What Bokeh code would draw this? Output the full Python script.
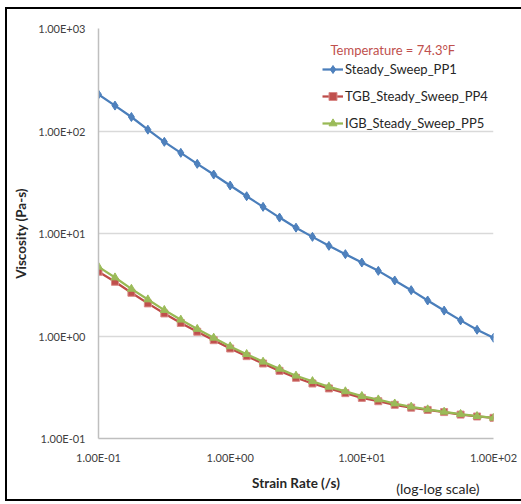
from bokeh.plotting import figure
from bokeh.models import Legend, LegendItem, Label, FixedTicker, Title
from bokeh.embed import file_html
from bokeh.resources import INLINE

# Data
strain_rate = [0.1, 0.1334, 0.1778, 0.2371, 0.3162, 0.4217, 0.5623, 0.7499,
               1.0, 1.334, 1.778, 2.371, 3.162, 4.217, 5.623, 7.499,
               10.0, 13.34, 17.78, 23.71, 31.62, 42.17, 56.23, 74.99, 100.0]
pp1 = [227, 177, 137, 103, 78.4, 61.2, 47.8, 37.6, 29.4, 23.1, 18.2, 14.3,
       11.4, 9.27, 7.58, 6.29, 5.21, 4.32, 3.48, 2.80, 2.22, 1.77, 1.42, 1.15, 0.96]
pp4 = [4.23, 3.38, 2.64, 2.08, 1.66, 1.34, 1.10, 0.91, 0.755, 0.636, 0.539,
       0.457, 0.391, 0.344, 0.308, 0.277, 0.249, 0.231, 0.213, 0.200, 0.190,
       0.181, 0.171, 0.164, 0.159]
pp5 = [4.73, 3.72, 2.88, 2.27, 1.79, 1.44, 1.17, 0.96, 0.79, 0.665, 0.56,
       0.478, 0.409, 0.362, 0.319, 0.288, 0.259, 0.240, 0.219, 0.204, 0.192,
       0.182, 0.173, 0.165, 0.159]
series_names = ["Steady_Sweep_PP1", "TGB_Steady_Sweep_PP4", "IGB_Steady_Sweep_PP5"]
x_tick_values = [0.1, 1, 10, 100]
x_tick_labels = ["1.00E-01", "1.00E+00", "1.00E+01", "1.00E+02"]
y_tick_values = [0.1, 1, 10, 100, 1000]
y_tick_labels = ["1.00E-01", "1.00E+00", "1.00E+01", "1.00E+02", "1.00E+03"]

FONT = "Lato"
TICK_COLOR = "#404040"
TEXT_COLOR = "#262626"

p = figure(width=514, height=490, x_axis_type="log", y_axis_type="log",
           x_range=(0.1, 100), y_range=(0.1, 1000),
           output_backend="svg", toolbar_location=None,
           min_border_left=91, min_border_right=28, min_border_top=19,
           min_border_bottom=61)
p.styles = {"margin-left": "7px", "margin-top": "9px",
            "outline": "2px solid black"}
p.outline_line_color = None
p.background_fill_color = "white"
p.border_fill_color = "white"

p.xaxis.ticker = FixedTicker(ticks=x_tick_values, minor_ticks=[])
p.yaxis.ticker = FixedTicker(ticks=y_tick_values, minor_ticks=[])
p.xaxis.major_label_overrides = dict(zip(x_tick_values, x_tick_labels))
p.yaxis.major_label_overrides = dict(zip(y_tick_values, y_tick_labels))

for ax in (p.xaxis, p.yaxis):
    ax.major_tick_line_color = None
    ax.minor_tick_line_color = None
    ax.major_tick_out = 0
    ax.major_tick_in = 0
    ax.minor_tick_out = 0
    ax.minor_tick_in = 0
    ax.axis_line_color = "#BFBFBF"
    ax.axis_line_width = 1.5
    ax.major_label_text_font = FONT
    ax.major_label_text_font_size = "11px"
    ax.major_label_text_color = TICK_COLOR
    ax.axis_label_text_font = FONT
    ax.axis_label_text_font_size = "13.5px"
    ax.axis_label_text_font_style = "bold"
    ax.axis_label_text_color = TEXT_COLOR
p.yaxis.major_label_standoff = 13
p.xaxis.major_label_standoff = 12
p.xaxis.axis_label = "Strain Rate (/s)"
p.yaxis.axis_label = "Viscosity (Pa-s)"
p.xaxis.axis_label_standoff = 8
p.yaxis.axis_label_standoff = 6

p.xgrid.grid_line_color = None
p.ygrid.grid_line_color = "#D9D9D9"
p.ygrid.grid_line_width = 1.5
p.ygrid.ticker = FixedTicker(ticks=y_tick_values, minor_ticks=[])

r1l = p.line(strain_rate, pp1, line_color="#4A7EBB", line_width=2.25)
r1m = p.scatter(strain_rate, pp1, marker="diamond", size=9,
                fill_color="#4F81BD", line_color="#4A7EBB")
r2l = p.line(strain_rate, pp4, line_color="#BE4B48", line_width=2.25)
r2m = p.scatter(strain_rate, pp4, marker="square", size=7,
                fill_color="#C0504D", line_color="#D98A88")
r3l = p.line(strain_rate, pp5, line_color="#98B954", line_width=2.25)
r3m = p.scatter(strain_rate, pp5, marker="triangle", size=8,
                fill_color="#9BBB59", line_color="#9BBB59")

legend = Legend(items=[
    LegendItem(label=series_names[0], renderers=[r1l, r1m]),
    LegendItem(label=series_names[1], renderers=[r2l, r2m]),
    LegendItem(label=series_names[2], renderers=[r3l, r3m]),
], location=(224, 305), padding=0, margin=0, spacing=7,
    label_height=20, glyph_height=20, glyph_width=21, label_standoff=2,
    border_line_color=None, background_fill_alpha=0,
    label_text_font=FONT, label_text_font_size="13px", label_text_color=TEXT_COLOR)
p.add_layout(legend, "center")

p.add_layout(Label(x=232, y=389, x_units="screen", y_units="screen",
                   text="Temperature = 74.3°F", text_color="#C0504D",
                   text_font=FONT, text_font_size="13px", text_baseline="middle"))

note = Title(text="(log-log scale)", align="right", vertical_align="top",
             offset=14, standoff=-28,
             text_font=FONT, text_font_size="14px", text_font_style="normal",
             text_color=TEXT_COLOR)
p.add_layout(note, "below")

open("out.html", "w").write(file_html(p, INLINE))
